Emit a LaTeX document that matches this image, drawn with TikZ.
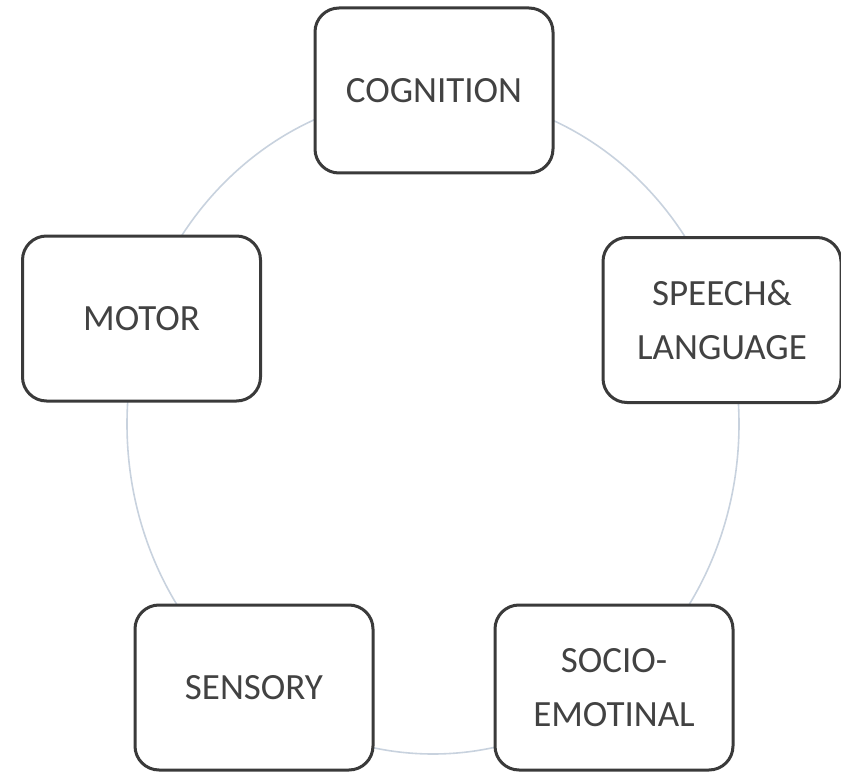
\documentclass[tikz,border=0pt]{standalone}
\usepackage{fontspec}
\setmainfont{Carlito}
\pgfdeclarelayer{background}
\pgfsetlayers{background,main}
\definecolor{ringblue}{RGB}{200,210,222}
\definecolor{boxline}{RGB}{58,58,58}
\definecolor{labelgrey}{RGB}{66,66,66}
\tikzstyle{area}=[draw=boxline, fill=white, line width=3pt, rounded corners=24pt,
    minimum width=238pt, minimum height=165pt, text=labelgrey, align=center,
    font=\fontsize{37}{54}\selectfont]
\tikzstyle{ring}=[draw=ringblue, line width=1.6pt]
\def\ringrx{306pt}
\def\ringry{330pt}

\begin{document}
\begin{tikzpicture}[x=1pt,y=-1pt]
    \useasboundingbox (0,0) rectangle (841,773);
	% Define the nodes in the picture
    \node (cognition) [area] at (434,90.5) {COGNITION};
    \node (speech) [area] at (722,320) {SPEECH\&\\LANGUAGE};
    \node (socio) [area] at (614,687.5) {SOCIO-\\EMOTINAL};
    \node (sensory) [area] at (254,687.5) {SENSORY};
    \node (motor) [area] at (141.5,318.5) {MOTOR};
    \coordinate (hub) at (433,424);

    % Define the ring behind the boxes
    \begin{pgfonlayer}{background}
    \draw [ring] (hub) ellipse [x radius=\ringrx, y radius=\ringry];
    \end{pgfonlayer}
\end{tikzpicture}
\end{document}
